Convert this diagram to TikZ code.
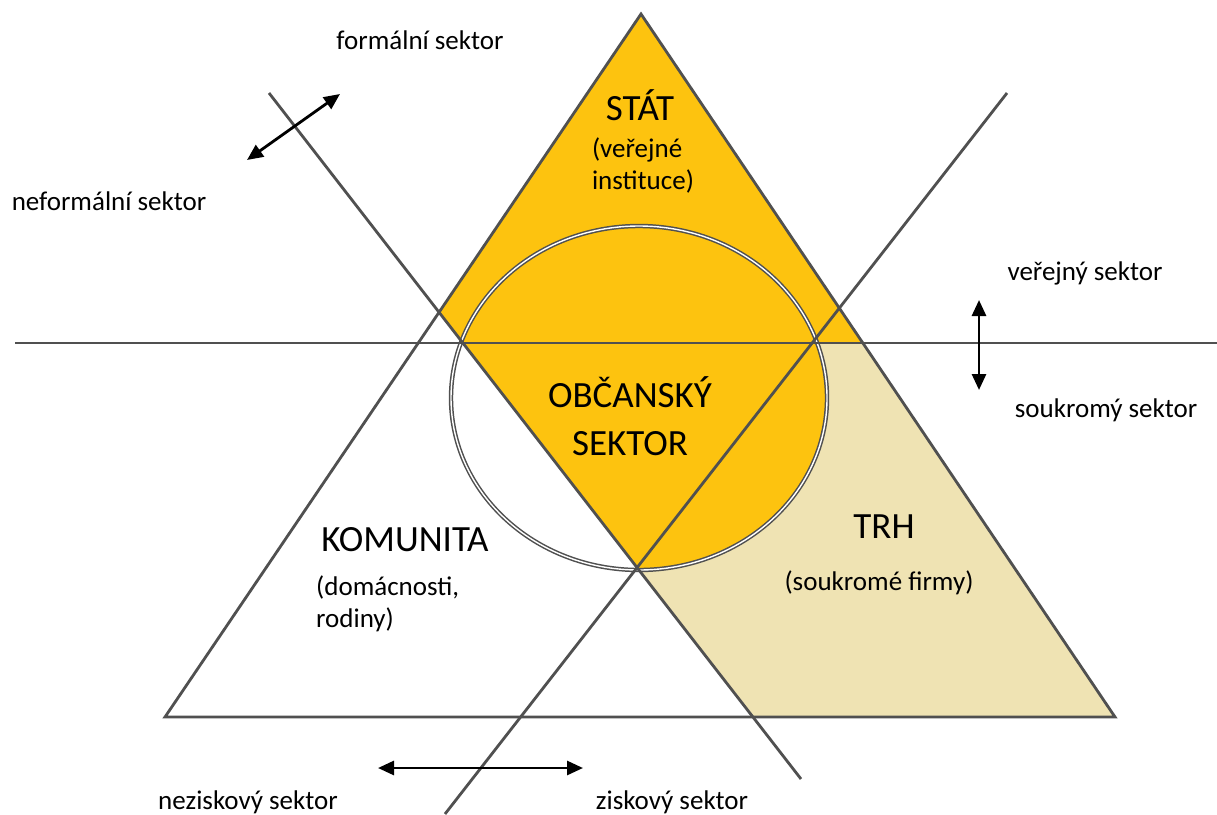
\documentclass[tikz,border=0pt]{standalone}
\usepackage{fontspec}
\setmainfont{Carlito}
\usetikzlibrary{arrows.meta}
\definecolor{stat}{HTML}{FDC30F}
\definecolor{trh}{HTML}{EFE3B3}
\definecolor{ln}{HTML}{505050}
\begin{document}
\begin{tikzpicture}[x=1pt,y=-1pt,
  edge/.style={draw=ln,line width=2.8pt},
  ring/.style={draw=ln,line width=1.5pt,double=white,double distance=1.4pt},
  dblarrow/.style={draw=black,line width=2.8pt,{Triangle[length=16pt,width=14pt]}-{Triangle[length=16pt,width=14pt]}},
  small/.style={inner sep=0pt,font=\fontsize{27}{32}\selectfont},
  big/.style={inner sep=0pt,font=\fontsize{37}{48}\selectfont}]
\fill[white] (0,0) rectangle (1217,814);
\useasboundingbox (0,0) rectangle (1217,814);
% key points
\coordinate (A) at (641,14);
\coordinate (BL) at (165,717);
\coordinate (BR) at (1115,717);
\coordinate (H1) at (15,343);
\coordinate (H2) at (1217,343);
\coordinate (L1a) at (269,93);
\coordinate (L1b) at (801,779);
\coordinate (L2a) at (1007,93);
\coordinate (L2b) at (445,814);
\coordinate (P0) at (196.9,0);
\coordinate (P1) at (462.9,343);
\coordinate (P2) at (828.1,814);
% fills
\begin{scope}
  \clip (A)--(BL)--(BR)--cycle;
  \fill[stat] (P0)--(P1)--(1217,343)--(1217,0)--cycle;
  \fill[trh] (P1)--(P2)--(1217,814)--(1217,343)--cycle;
  \clip (639,398) ellipse [x radius=188pt, y radius=172pt];
  \fill[stat] (P1)--(P2)--(1217,814)--(1217,343)--cycle;
\end{scope}
% circle
\draw[ring] (639,398) ellipse [x radius=188pt, y radius=172pt];
% lines
\draw[edge] (H1)--(H2);
\draw[edge] (L1a)--(L1b);
\draw[edge] (L2a)--(L2b);
\draw[edge,line join=miter] (A)--(BL)--(BR)--cycle;
% arrows
\coordinate (d1) at (247,160);
\coordinate (d2) at (340,94);
\coordinate (v1) at (979,300);
\coordinate (v2) at (979,390);
\coordinate (h1) at (378,768);
\coordinate (h2) at (583,768);
\draw[dblarrow] (d1)--(d2);
\draw[dblarrow] (v1)--(v2);
\draw[dblarrow] (h1)--(h2);
% labels
\node[small] (formal) at (420,40) {formální sektor};
\node[small] (neformal) at (109,201) {neformální sektor};
\node[small] (verejny) at (1085,273) {veřejný sektor};
\node[small] (soukromy) at (1106,410) {soukromý sektor};
\node[small] (nezisk) at (248,802) {neziskový sektor};
\node[small] (zisk) at (672,802) {ziskový sektor};
\node[big] (stat) at (640,105) {STÁT};
\node[small,align=left] (statsub) at (643,166) {(veřejné\\instituce)};
\node[big,align=center] (obc) at (630,416) {OBČANSKÝ\\SEKTOR};
\node[big] (kom) at (405,540) {KOMUNITA};
\node[small,align=left,anchor=west] (komsub) at (316,604) {(domácnosti,\\rodiny)};
\node[big] (trhl) at (884,527) {TRH};
\node[small] (trhsub) at (879,583) {(soukromé firmy)};
\end{tikzpicture}
\end{document}
